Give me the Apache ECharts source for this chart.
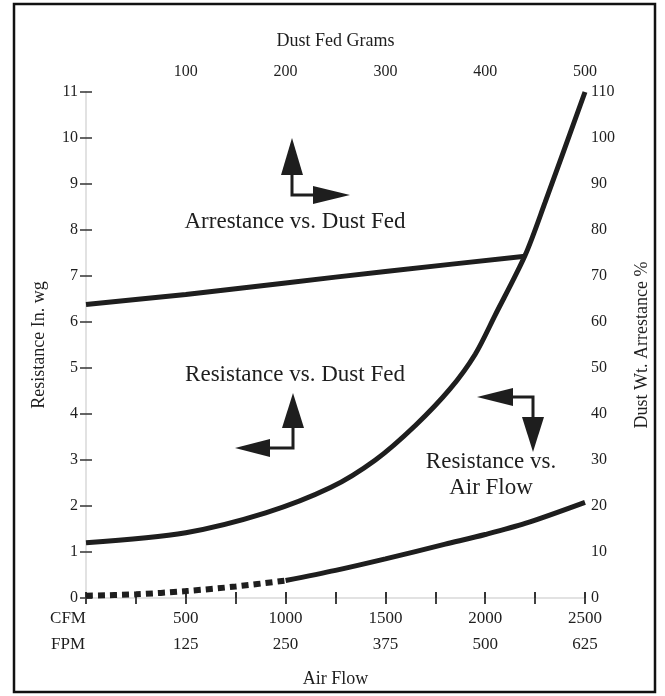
<!DOCTYPE html>
<html>
<head>
<meta charset="utf-8">
<script src="https://cdn.jsdelivr.net/npm/echarts@6/dist/echarts.min.js"></script>
<style>
  html, body { margin: 0; padding: 0; background: #fff; }
  #chart { width: 665px; height: 696px; }
</style>
</head>
<body>
<div id="chart"></div>
<script>
const chartDom = document.getElementById("chart");
const chart = echarts.init(chartDom, null, { renderer: "canvas" });

const font = "Liberation Serif";
const ink = "#1e1e1e";

// bottom axis: air flow
const cfmTicks = [0, 500, 1000, 1500, 2000, 2500];
const fpmTicks = [0, 125, 250, 375, 500, 625];

// arrestance % vs dust fed grams (top / right axes)
const arrestGrams = [0, 100, 200, 300, 440];
const arrestPct = [63.8, 66, 68.5, 71, 74.3];

// resistance in. wg vs dust fed grams (top / left axes)
const resDustGrams = [0, 100, 180, 245, 290, 330, 365, 390, 410, 440, 460, 500];
const resDustWg = [1.2, 1.42, 1.85, 2.4, 3.0, 3.75, 4.55, 5.3, 6.15, 7.45, 8.6, 11];

// resistance in. wg vs air flow (bottom / left axes)
const resAirCfm = [1000, 1250, 1500, 1800, 2000, 2200, 2500];
const resAirWg = [0.38, 0.6, 0.85, 1.17, 1.38, 1.62, 2.08];
// extrapolated (dotted) part
const resAirLowCfm = [0, 250, 500, 750, 1000];
const resAirLowWg = [0.05, 0.08, 0.15, 0.25, 0.38];

function pairs(xs, ys) {
  return xs.map((x, i) => [x, ys[i]]);
}

function arrow(points) {
  return {
    type: "polygon",
    shape: { points: points },
    style: { fill: ink },
  };
}

function stem(points) {
  return {
    type: "polyline",
    shape: { points: points },
    style: { stroke: ink, lineWidth: 3, fill: null },
  };
}

function note(text, x, y) {
  return {
    type: "text",
    x: x,
    y: y,
    style: {
      text: text,
      font: "23px '" + font + "'",
      fill: ink,
      align: "center",
      verticalAlign: "middle",
    },
  };
}

const lineStyle = { color: ink, width: 5 };

const option = {
  backgroundColor: "#fff",
  animation: false,
  textStyle: { fontFamily: font, color: ink },
  grid: { left: 86, right: 80, top: 92, bottom: 98, outerBoundsMode: "none" },
  xAxis: [
    {
      type: "value",
      position: "bottom",
      min: 0,
      max: 2500,
      interval: 250,
      axisLine: { show: true, lineStyle: { color: "#d8d8d8", width: 2 } },
      axisTick: { show: true, inside: true, length: 6, lineStyle: { color: "#333", width: 2 } },
      splitLine: { show: false },
      axisLabel: {
        fontFamily: font,
        fontSize: 17,
        color: ink,
        lineHeight: 26,
        margin: 8,
        formatter: function (v) {
          const i = cfmTicks.indexOf(v);
          if (i < 0) return "";
          if (i === 0) return "{lead|CFM}\n{lead|FPM}";
          return cfmTicks[i] + "\n" + fpmTicks[i];
        },
        rich: {
          lead: { fontFamily: font, fontSize: 17, color: ink, lineHeight: 26, padding: [0, 36, 0, 0] },
        },
      },
      name: "Air Flow",
      nameLocation: "middle",
      nameGap: 72,
      nameTextStyle: { fontFamily: font, fontSize: 18, color: ink },
    },
    {
      type: "value",
      position: "top",
      min: 0,
      max: 500,
      interval: 50,
      axisLine: { show: true, lineStyle: { color: "#e2e2e2", width: 2 } },
      axisTick: { show: true, inside: true, length: 6, lineStyle: { color: "#444", width: 2 } },
      splitLine: { show: false },
      axisLabel: {
        fontFamily: font,
        fontSize: 16,
        color: ink,
        margin: 12,
        formatter: function (v) {
          return v > 0 && v % 100 === 0 ? String(v) : "";
        },
      },
      name: "Dust Fed Grams",
      nameLocation: "middle",
      nameGap: 42,
      nameTextStyle: { fontFamily: font, fontSize: 18, color: ink },
    },
  ],
  yAxis: [
    {
      type: "value",
      position: "left",
      min: 0,
      max: 11,
      interval: 1,
      axisLine: { show: true, lineStyle: { color: "#e2e2e2", width: 2 } },
      axisTick: { show: true, length: 6, lineStyle: { color: "#333", width: 1.5 } },
      splitLine: { show: false },
      axisLabel: { fontFamily: font, fontSize: 16, color: ink, margin: 8 },
      name: "Resistance In. wg",
      nameLocation: "middle",
      nameGap: 38,
      nameRotate: 90,
      nameTextStyle: { fontFamily: font, fontSize: 18, color: ink },
    },
    {
      type: "value",
      position: "right",
      min: 0,
      max: 110,
      interval: 10,
      axisLine: { show: true, lineStyle: { color: "#e2e2e2", width: 2 } },
      axisTick: { show: true, length: 6, lineStyle: { color: "#333", width: 1.5 } },
      splitLine: { show: false },
      axisLabel: { fontFamily: font, fontSize: 16, color: ink, margin: 6 },
      name: "Dust Wt. Arrestance %",
      nameLocation: "middle",
      nameGap: 48,
      nameRotate: 90,
      nameTextStyle: { fontFamily: font, fontSize: 18, color: ink },
    },
  ],
  series: [
    {
      name: "Arrestance vs. Dust Fed",
      type: "line",
      xAxisIndex: 1,
      yAxisIndex: 1,
      data: pairs(arrestGrams, arrestPct),
      smooth: 0.2,
      showSymbol: false,
      lineStyle: lineStyle,
    },
    {
      name: "Resistance vs. Dust Fed",
      type: "line",
      xAxisIndex: 1,
      yAxisIndex: 0,
      data: pairs(resDustGrams, resDustWg),
      smooth: 0.3,
      showSymbol: false,
      lineStyle: lineStyle,
    },
    {
      name: "Resistance vs. Air Flow",
      type: "line",
      xAxisIndex: 0,
      yAxisIndex: 0,
      data: pairs(resAirCfm, resAirWg),
      smooth: 0.3,
      showSymbol: false,
      lineStyle: lineStyle,
    },
    {
      name: "Resistance vs. Air Flow (low)",
      type: "line",
      xAxisIndex: 0,
      yAxisIndex: 0,
      data: pairs(resAirLowCfm, resAirLowWg),
      smooth: 0.3,
      showSymbol: false,
      lineStyle: { color: ink, width: 6, type: [7, 5] },
    },
  ],
  graphic: [
    {
      type: "rect",
      shape: { x: 14, y: 4, width: 641, height: 688 },
      style: { fill: null, stroke: "#111", lineWidth: 2.5 },
    },
    // arrestance arrows
    stem([[292, 172], [292, 195], [318, 195]]),
    arrow([[292, 138], [281, 175], [303, 175]]),
    arrow([[350, 195], [313, 186], [313, 204]]),
    note("Arrestance vs. Dust Fed", 295, 222),
    // resistance vs dust fed arrows
    note("Resistance vs. Dust Fed", 295, 375),
    stem([[293, 425], [293, 448], [266, 448]]),
    arrow([[293, 393], [282, 428], [304, 428]]),
    arrow([[235, 448], [270, 439], [270, 457]]),
    // resistance vs air flow arrows
    stem([[510, 397], [533, 397], [533, 420]]),
    arrow([[477, 397], [513, 388], [513, 406]]),
    arrow([[533, 452], [522, 417], [544, 417]]),
    note("Resistance vs.", 491, 462),
    note("Air Flow", 491, 488),
  ],
};

chart.setOption(option);

window.addEventListener("resize", function () {
  chart.resize();
});
</script>
</body>
</html>
